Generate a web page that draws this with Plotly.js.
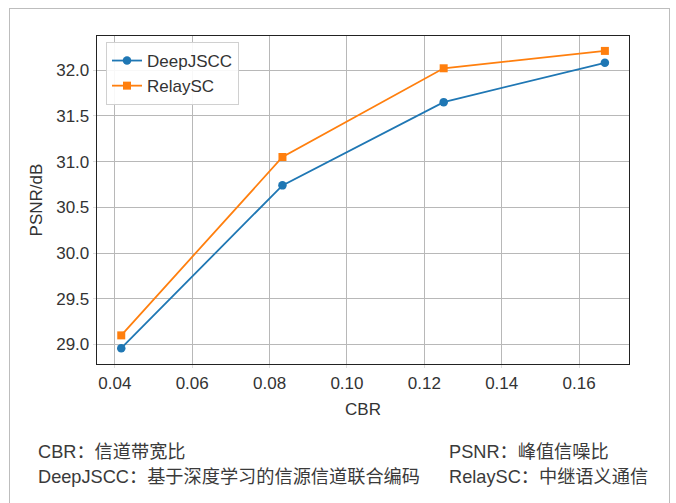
<!DOCTYPE html>
<html>
<head>
<meta charset="utf-8">
<script src="https://cdn.plot.ly/plotly-3.0.1.min.js"></script>
<style>
html,body{margin:0;padding:0;background:#fff;}
#wrap{position:relative;width:676px;height:503px;overflow:hidden;}
#chart{position:absolute;left:0;top:0;width:676px;height:503px;}
#frame{position:absolute;left:9px;top:8px;width:659px;height:600px;border:1px solid #bdbdbd;pointer-events:none;}
</style>
</head>
<body>
<div id="wrap"><div id="chart"></div><div id="frame"></div></div>
<script>
var cbr = [1/24, 1/12, 1/8, 1/6];
var deepjscc = [28.96, 30.74, 31.65, 32.08];
var relaysc = [29.10, 31.05, 32.02, 32.21];
var seriesNames = ["DeepJSCC", "RelaySC"];
var xTicks = [0.04, 0.06, 0.08, 0.10, 0.12, 0.14, 0.16];
var xTickText = ["0.04", "0.06", "0.08", "0.10", "0.12", "0.14", "0.16"];
var yTicks = [29.0, 29.5, 30.0, 30.5, 31.0, 31.5, 32.0];
var yTickText = ["29.0", "29.5", "30.0", "30.5", "31.0", "31.5", "32.0"];
var notes = [
  "CBR：信道带宽比", "PSNR：峰值信噪比",
  "DeepJSCC：基于深度学习的信源信道联合编码", "RelaySC：中继语义通信"
];

var F = '"Liberation Sans", "Noto Sans CJK SC", sans-serif';
var traces = [
  {x: cbr, y: deepjscc, name: seriesNames[0], type: 'scatter', mode: 'lines+markers',
   line: {color: '#1f77b4', width: 1.8}, marker: {symbol: 'circle', size: 8.5, color: '#1f77b4'}},
  {x: cbr, y: relaysc, name: seriesNames[1], type: 'scatter', mode: 'lines+markers',
   line: {color: '#ff7f0e', width: 1.8}, marker: {symbol: 'square', size: 8, color: '#ff7f0e'}}
];

var W = 532, H = 328, L = 97, T = 36;
function px(x){ return (x - L) / W; }
function py(y){ return (T + H - y) / H; }
var pos = [[36, 452], [447, 452], [36, 477], [447, 477]];
var anns = notes.map(function(t, i){
  return {text: t, xref: 'paper', yref: 'paper', x: px(pos[i][0]), y: py(pos[i][1]),
    xanchor: 'left', yanchor: 'middle', showarrow: false,
    font: {family: F, size: 18.2, color: '#3a3a3a'}};
});

var layout = {
  width: 676, height: 503,
  margin: {l: L, r: 676 - L - W, t: T, b: 503 - T - H},
  paper_bgcolor: '#fff', plot_bgcolor: '#fff',
  font: {family: F, color: '#333'},
  showlegend: true,
  legend: {x: px(106), y: py(42), xanchor: 'left', yanchor: 'top',
    bgcolor: 'rgba(255,255,255,0.9)', bordercolor: '#d0d0d0', borderwidth: 1,
    font: {family: F, size: 17, color: '#333'}, tracegroupgap: 0},
  xaxis: {range: [0.0354, 0.1729], tickvals: xTicks, ticktext: xTickText,
    showgrid: true, gridcolor: '#b8b8b8', gridwidth: 1, zeroline: false,
    showline: true, linecolor: '#222', linewidth: 1.3, mirror: true,
    ticks: 'outside', ticklen: 3, tickcolor: '#ddd',
    tickfont: {family: F, size: 17, color: '#333'},
    title: {text: 'CBR', font: {family: F, size: 17, color: '#333'}, standoff: 11}},
  yaxis: {range: [28.787, 32.373], tickvals: yTicks, ticktext: yTickText,
    showgrid: true, gridcolor: '#b8b8b8', gridwidth: 1, zeroline: false,
    showline: true, linecolor: '#222', linewidth: 1.3, mirror: true,
    ticks: 'outside', ticklen: 3, tickcolor: '#ddd',
    tickfont: {family: F, size: 17, color: '#333'},
    title: {text: 'PSNR/dB', font: {family: F, size: 17, color: '#333'}, standoff: 9}},
  annotations: anns
};
Plotly.newPlot('chart', traces, layout, {displayModeBar: false, staticPlot: true});
</script>
</body>
</html>
